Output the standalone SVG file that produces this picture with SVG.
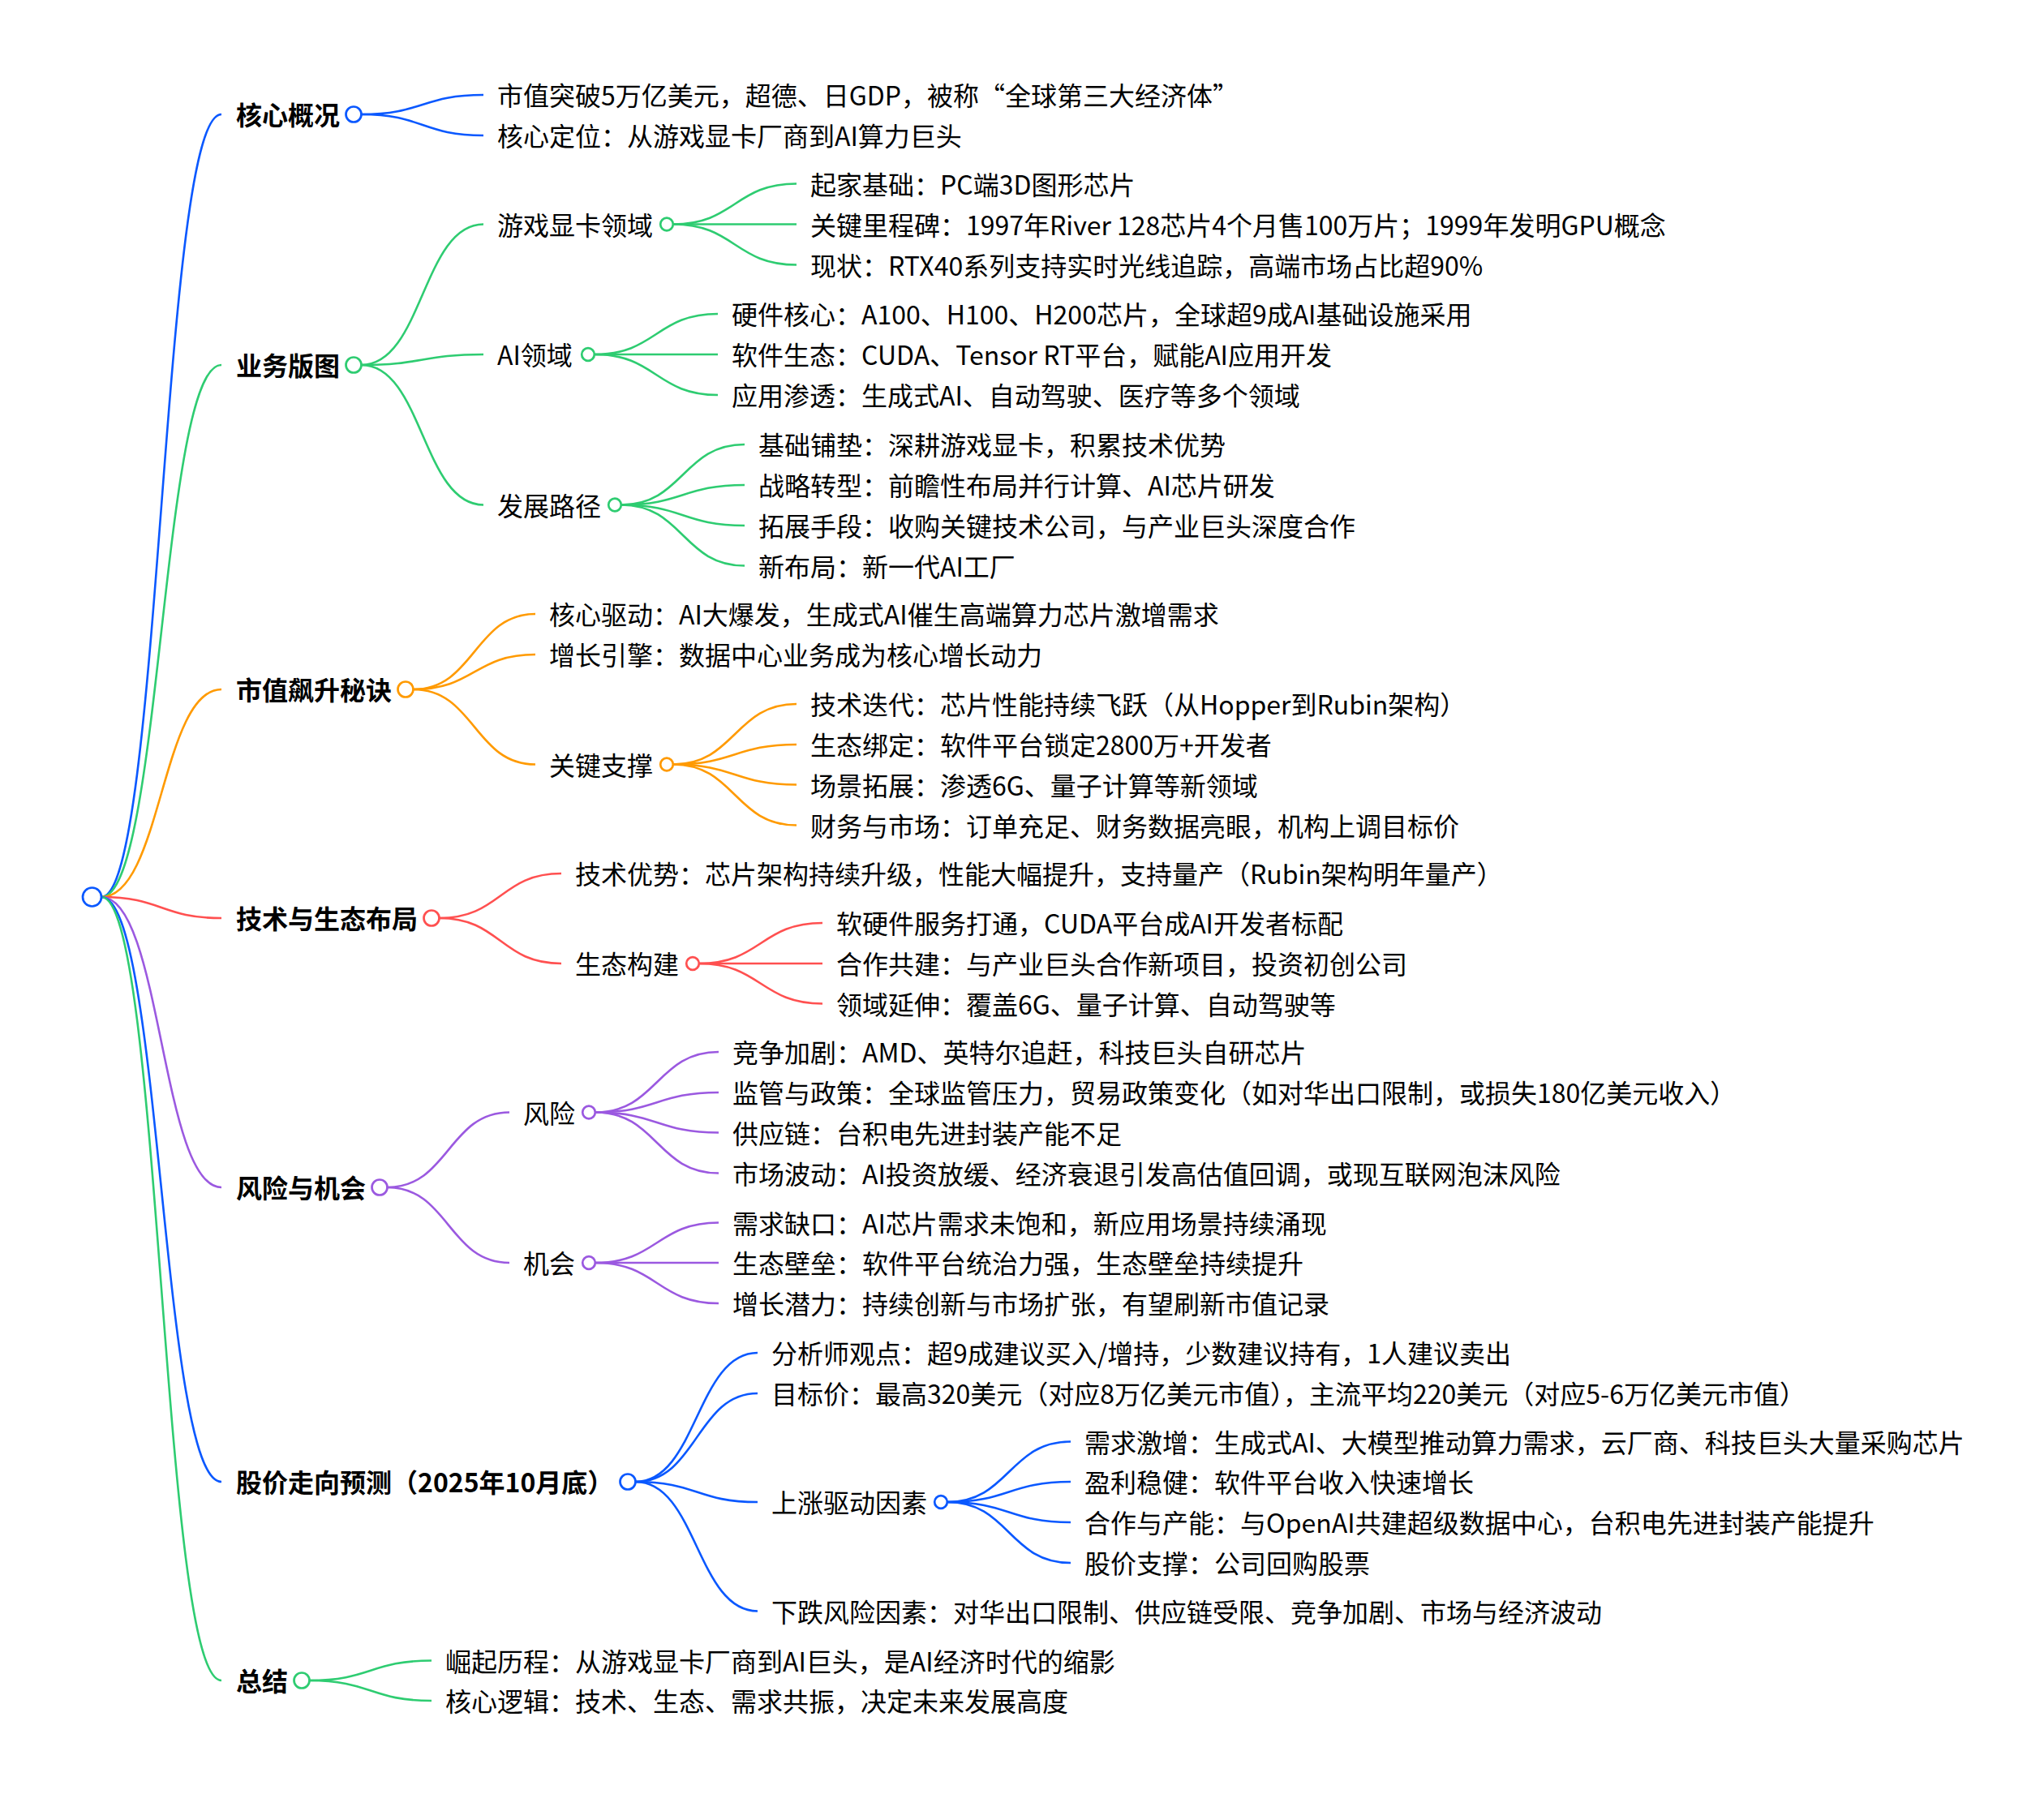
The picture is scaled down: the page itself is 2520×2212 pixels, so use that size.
<svg xmlns="http://www.w3.org/2000/svg" width="2520" height="2212" viewBox="0 0 2520 2212">
<style>
text{font-family:"Noto Sans CJK SC","Noto Sans",sans-serif;font-size:32px;fill:#000}
.l1{font-weight:bold}
path{fill:none;stroke-width:2.6}
circle{fill:#fff;stroke-width:2.7}
.b{stroke:#0a58ff}.g{stroke:#2ecc71}.o{stroke:#ff9a00}.r{stroke:#ff5050}.p{stroke:#9b59e0}
</style>
<rect width="2520" height="2212" fill="#fff"/>
<g id="connectors">
<path class="b" d="M125 1106 C199 1106 199 141 273 141"/>
<path class="g" d="M125 1106 C199 1106 199 450 273 450"/>
<path class="o" d="M125 1106 C199 1106 199 850 273 850"/>
<path class="r" d="M125 1106 C199 1106 199 1132 273 1132"/>
<path class="p" d="M125 1106 C199 1106 199 1464 273 1464"/>
<path class="b" d="M125 1106 C199 1106 199 1827 273 1827"/>
<path class="g" d="M125 1106 C199 1106 199 2072 273 2072"/>
<path class="b" d="M445.5 141 C521 141 521 117 596 117"/>
<path class="b" d="M445.5 141 C521 141 521 167 596 167"/>
<path class="g" d="M445.5 450 C521 450 521 276.5 596 276.5"/>
<path class="g" d="M445.5 450 C521 450 521 437 596 437"/>
<path class="g" d="M445.5 450 C521 450 521 622.5 596 622.5"/>
<path class="g" d="M830 276.5 C906 276.5 906 226.5 982 226.5"/>
<path class="g" d="M830 276.5 C906 276.5 906 276.5 982 276.5"/>
<path class="g" d="M830 276.5 C906 276.5 906 326.5 982 326.5"/>
<path class="g" d="M733 437 C809 437 809 387 885 387"/>
<path class="g" d="M733 437 C809 437 809 437 885 437"/>
<path class="g" d="M733 437 C809 437 809 487 885 487"/>
<path class="g" d="M766 622.5 C842 622.5 842 548 918 548"/>
<path class="g" d="M766 622.5 C842 622.5 842 598 918 598"/>
<path class="g" d="M766 622.5 C842 622.5 842 648 918 648"/>
<path class="g" d="M766 622.5 C842 622.5 842 697.5 918 697.5"/>
<path class="o" d="M509.5 850 C585 850 585 757 660 757"/>
<path class="o" d="M509.5 850 C585 850 585 807 660 807"/>
<path class="o" d="M509.5 850 C585 850 585 942.5 660 942.5"/>
<path class="o" d="M830 942.5 C906 942.5 906 868 982 868"/>
<path class="o" d="M830 942.5 C906 942.5 906 918 982 918"/>
<path class="o" d="M830 942.5 C906 942.5 906 967.5 982 967.5"/>
<path class="o" d="M830 942.5 C906 942.5 906 1017.5 982 1017.5"/>
<path class="r" d="M541.5 1132 C617 1132 617 1077 692 1077"/>
<path class="r" d="M541.5 1132 C617 1132 617 1188 692 1188"/>
<path class="r" d="M862 1188 C938 1188 938 1138 1014 1138"/>
<path class="r" d="M862 1188 C938 1188 938 1188 1014 1188"/>
<path class="r" d="M862 1188 C938 1188 938 1237.5 1014 1237.5"/>
<path class="p" d="M477.5 1464 C553 1464 553 1371.5 628 1371.5"/>
<path class="p" d="M477.5 1464 C553 1464 553 1557 628 1557"/>
<path class="p" d="M734 1371.5 C810 1371.5 810 1297 886 1297"/>
<path class="p" d="M734 1371.5 C810 1371.5 810 1347 886 1347"/>
<path class="p" d="M734 1371.5 C810 1371.5 810 1396.5 886 1396.5"/>
<path class="p" d="M734 1371.5 C810 1371.5 810 1446.5 886 1446.5"/>
<path class="p" d="M734 1557 C810 1557 810 1507.5 886 1507.5"/>
<path class="p" d="M734 1557 C810 1557 810 1557 886 1557"/>
<path class="p" d="M734 1557 C810 1557 810 1607 886 1607"/>
<path class="b" d="M783.5 1827 C859 1827 859 1668 934 1668"/>
<path class="b" d="M783.5 1827 C859 1827 859 1718 934 1718"/>
<path class="b" d="M783.5 1827 C859 1827 859 1852 934 1852"/>
<path class="b" d="M783.5 1827 C859 1827 859 1986.5 934 1986.5"/>
<path class="b" d="M1168 1852 C1244 1852 1244 1777.5 1320 1777.5"/>
<path class="b" d="M1168 1852 C1244 1852 1244 1827 1320 1827"/>
<path class="b" d="M1168 1852 C1244 1852 1244 1877 1320 1877"/>
<path class="b" d="M1168 1852 C1244 1852 1244 1927 1320 1927"/>
<path class="g" d="M381.5 2072 C457 2072 457 2047.5 532 2047.5"/>
<path class="g" d="M381.5 2072 C457 2072 457 2097 532 2097"/>
</g>
<g id="root"><circle class="b" cx="113.5" cy="1106" r="11.5"/></g>
<g id="n1"><text class="l1" x="291" y="154">核心概况</text><circle class="b" cx="436" cy="141" r="9.5"/></g>
<g id="n1-1"><text x="613" y="130">市值突破5万亿美元，超德、日GDP，被称“全球第三大经济体”</text></g>
<g id="n1-2"><text x="613" y="180">核心定位：从游戏显卡厂商到AI算力巨头</text></g>
<g id="n2"><text class="l1" x="291" y="463">业务版图</text><circle class="g" cx="436" cy="450" r="9.5"/></g>
<g id="n2-1"><text x="613" y="289.5">游戏显卡领域</text><circle class="g" cx="822" cy="276.5" r="7.8"/></g>
<g id="n2-1-1"><text x="999" y="239.5">起家基础：PC端3D图形芯片</text></g>
<g id="n2-1-2"><text x="999" y="289.5">关键里程碑：1997年River 128芯片4个月售100万片；1999年发明GPU概念</text></g>
<g id="n2-1-3"><text x="999" y="339.5">现状：RTX40系列支持实时光线追踪，高端市场占比超90%</text></g>
<g id="n2-2"><text x="613" y="450">AI领域</text><circle class="g" cx="725" cy="437" r="7.8"/></g>
<g id="n2-2-1"><text x="902" y="400">硬件核心：A100、H100、H200芯片，全球超9成AI基础设施采用</text></g>
<g id="n2-2-2"><text x="902" y="450">软件生态：CUDA、Tensor RT平台，赋能AI应用开发</text></g>
<g id="n2-2-3"><text x="902" y="500">应用渗透：生成式AI、自动驾驶、医疗等多个领域</text></g>
<g id="n2-3"><text x="613" y="635.5">发展路径</text><circle class="g" cx="758" cy="622.5" r="7.8"/></g>
<g id="n2-3-1"><text x="935" y="561">基础铺垫：深耕游戏显卡，积累技术优势</text></g>
<g id="n2-3-2"><text x="935" y="611">战略转型：前瞻性布局并行计算、AI芯片研发</text></g>
<g id="n2-3-3"><text x="935" y="661">拓展手段：收购关键技术公司，与产业巨头深度合作</text></g>
<g id="n2-3-4"><text x="935" y="710.5">新布局：新一代AI工厂</text></g>
<g id="n3"><text class="l1" x="291" y="863">市值飙升秘诀</text><circle class="o" cx="500" cy="850" r="9.5"/></g>
<g id="n3-1"><text x="677" y="770">核心驱动：AI大爆发，生成式AI催生高端算力芯片激增需求</text></g>
<g id="n3-2"><text x="677" y="820">增长引擎：数据中心业务成为核心增长动力</text></g>
<g id="n3-3"><text x="677" y="955.5">关键支撑</text><circle class="o" cx="822" cy="942.5" r="7.8"/></g>
<g id="n3-3-1"><text x="999" y="881">技术迭代：芯片性能持续飞跃（从Hopper到Rubin架构）</text></g>
<g id="n3-3-2"><text x="999" y="931">生态绑定：软件平台锁定2800万+开发者</text></g>
<g id="n3-3-3"><text x="999" y="980.5">场景拓展：渗透6G、量子计算等新领域</text></g>
<g id="n3-3-4"><text x="999" y="1030.5">财务与市场：订单充足、财务数据亮眼，机构上调目标价</text></g>
<g id="n4"><text class="l1" x="291" y="1145">技术与生态布局</text><circle class="r" cx="532" cy="1132" r="9.5"/></g>
<g id="n4-1"><text x="709" y="1090">技术优势：芯片架构持续升级，性能大幅提升，支持量产（Rubin架构明年量产）</text></g>
<g id="n4-2"><text x="709" y="1201">生态构建</text><circle class="r" cx="854" cy="1188" r="7.8"/></g>
<g id="n4-2-1"><text x="1031" y="1151">软硬件服务打通，CUDA平台成AI开发者标配</text></g>
<g id="n4-2-2"><text x="1031" y="1201">合作共建：与产业巨头合作新项目，投资初创公司</text></g>
<g id="n4-2-3"><text x="1031" y="1250.5">领域延伸：覆盖6G、量子计算、自动驾驶等</text></g>
<g id="n5"><text class="l1" x="291" y="1477">风险与机会</text><circle class="p" cx="468" cy="1464" r="9.5"/></g>
<g id="n5-1"><text x="645" y="1384.5">风险</text><circle class="p" cx="726" cy="1371.5" r="7.8"/></g>
<g id="n5-1-1"><text x="903" y="1310">竞争加剧：AMD、英特尔追赶，科技巨头自研芯片</text></g>
<g id="n5-1-2"><text x="903" y="1360">监管与政策：全球监管压力，贸易政策变化（如对华出口限制，或损失180亿美元收入）</text></g>
<g id="n5-1-3"><text x="903" y="1409.5">供应链：台积电先进封装产能不足</text></g>
<g id="n5-1-4"><text x="903" y="1459.5">市场波动：AI投资放缓、经济衰退引发高估值回调，或现互联网泡沫风险</text></g>
<g id="n5-2"><text x="645" y="1570">机会</text><circle class="p" cx="726" cy="1557" r="7.8"/></g>
<g id="n5-2-1"><text x="903" y="1520.5">需求缺口：AI芯片需求未饱和，新应用场景持续涌现</text></g>
<g id="n5-2-2"><text x="903" y="1570">生态壁垒：软件平台统治力强，生态壁垒持续提升</text></g>
<g id="n5-2-3"><text x="903" y="1620">增长潜力：持续创新与市场扩张，有望刷新市值记录</text></g>
<g id="n6"><text class="l1" x="291" y="1840">股价走向预测（2025年10月底）</text><circle class="b" cx="774" cy="1827" r="9.5"/></g>
<g id="n6-1"><text x="951" y="1681">分析师观点：超9成建议买入/增持，少数建议持有，1人建议卖出</text></g>
<g id="n6-2"><text x="951" y="1731">目标价：最高320美元（对应8万亿美元市值），主流平均220美元（对应5-6万亿美元市值）</text></g>
<g id="n6-3"><text x="951" y="1865">上涨驱动因素</text><circle class="b" cx="1160" cy="1852" r="7.8"/></g>
<g id="n6-3-1"><text x="1337" y="1790.5">需求激增：生成式AI、大模型推动算力需求，云厂商、科技巨头大量采购芯片</text></g>
<g id="n6-3-2"><text x="1337" y="1840">盈利稳健：软件平台收入快速增长</text></g>
<g id="n6-3-3"><text x="1337" y="1890">合作与产能：与OpenAI共建超级数据中心，台积电先进封装产能提升</text></g>
<g id="n6-3-4"><text x="1337" y="1940">股价支撑：公司回购股票</text></g>
<g id="n6-4"><text x="951" y="1999.5">下跌风险因素：对华出口限制、供应链受限、竞争加剧、市场与经济波动</text></g>
<g id="n7"><text class="l1" x="291" y="2085">总结</text><circle class="g" cx="372" cy="2072" r="9.5"/></g>
<g id="n7-1"><text x="549" y="2060.5">崛起历程：从游戏显卡厂商到AI巨头，是AI经济时代的缩影</text></g>
<g id="n7-2"><text x="549" y="2110">核心逻辑：技术、生态、需求共振，决定未来发展高度</text></g>
</svg>
